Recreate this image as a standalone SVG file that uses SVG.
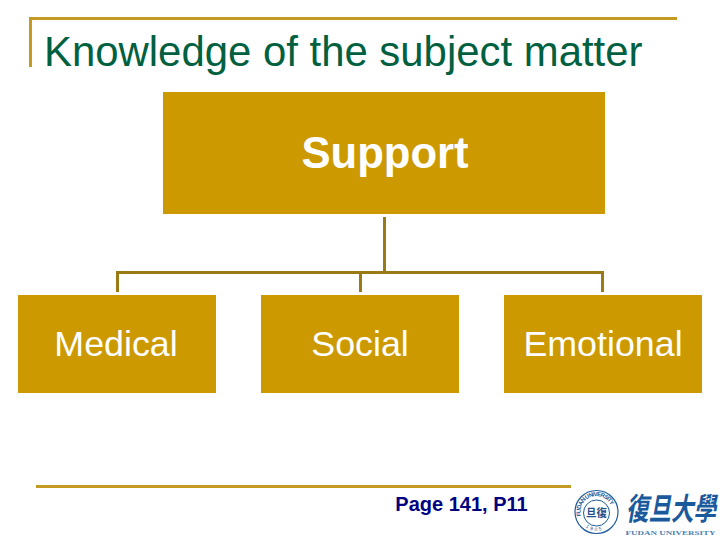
<svg xmlns="http://www.w3.org/2000/svg" width="720" height="540" viewBox="0 0 720 540">
  <style>
    .box { fill: #cc9900; }
    .conn { fill: none; stroke: #997a14; stroke-width: 3; }
    .rule { fill: none; stroke: #c49a22; stroke-width: 3; }
    .lbl { font-family: "Liberation Sans", Arial, sans-serif; font-size: 35.800px; fill: #ffffff; text-anchor: middle; }
    .seal { fill: none; stroke: #1f5c99; }
  </style>
  <defs>
    <path id="sealTop" d="M581 516a16 16 0 1 1 31 0"/>
    <path id="sealBottom" d="M581 522a18 18 0 0 0 31 0"/>
  </defs>
  <rect width="720" height="540" fill="#ffffff"/>
  <g id="title">
    <path class="rule" d="M30.500 67V18.500H677"/>
    <text x="44" y="65.500" font-family="'Liberation Sans', Arial, sans-serif" font-size="41.900px" fill="#006040">Knowledge of the subject matter</text>
  </g>
  <g id="connectors">
    <path class="conn" d="M384.500 217V272.500M117.500 292V272.500H602.500V292M360.500 272.500V292"/>
  </g>
  <g id="node-support">
    <rect class="box" x="163" y="92" width="442" height="122"/>
    <text class="lbl" x="385" y="168" font-weight="700" style="font-size:43.600px">Support</text>
  </g>
  <g id="node-medical">
    <rect class="box" x="18" y="295" width="198" height="98"/>
    <text class="lbl" x="116" y="356">Medical</text>
  </g>
  <g id="node-social">
    <rect class="box" x="261" y="295" width="198" height="98"/>
    <text class="lbl" x="360" y="356">Social</text>
  </g>
  <g id="node-emotional">
    <rect class="box" x="504" y="295" width="198" height="98"/>
    <text class="lbl" x="603" y="356">Emotional</text>
  </g>
  <g id="footer">
    <path class="rule" d="M36 486.500H571"/>
    <text x="461.500" y="511" text-anchor="middle" font-family="'Liberation Sans', Arial, sans-serif" font-size="20px" font-weight="700" fill="#000080">Page 141, P11</text>
  </g>
  <g id="logo">
    <circle class="seal" cx="596.500" cy="512" r="21.500" stroke-width="1.200"/>
    <circle class="seal" cx="596.500" cy="513" r="13" stroke-width="1"/>
    <text font-family="'Liberation Sans', Arial, sans-serif" font-size="6px" font-weight="700" fill="#1f5c99"><textPath href="#sealTop" textLength="47">FUDAN UNIVERSITY</textPath></text>
    <text font-family="'Liberation Sans', Arial, sans-serif" font-size="5px" fill="#1f5c99" letter-spacing="2"><textPath href="#sealBottom" startOffset="7">1905</textPath></text>
    <text x="596.500" y="517" text-anchor="middle" font-family="'Noto Sans CJK TC', sans-serif" font-size="11px" font-weight="700" fill="#1f4f8a" textLength="21" lengthAdjust="spacingAndGlyphs">旦復</text>
    <text transform="translate(626 520) scale(0.726 1)" font-family="'Noto Sans CJK TC', sans-serif" font-size="31px" font-style="italic" font-weight="700" fill="#1a5a9c">復旦大學</text>
    <text x="670.500" y="535" text-anchor="middle" font-family="'Liberation Serif', serif" font-size="7px" font-weight="700" fill="#4d7fb0" textLength="90" lengthAdjust="spacingAndGlyphs">FUDAN UNIVERSITY</text>
  </g>
</svg>
